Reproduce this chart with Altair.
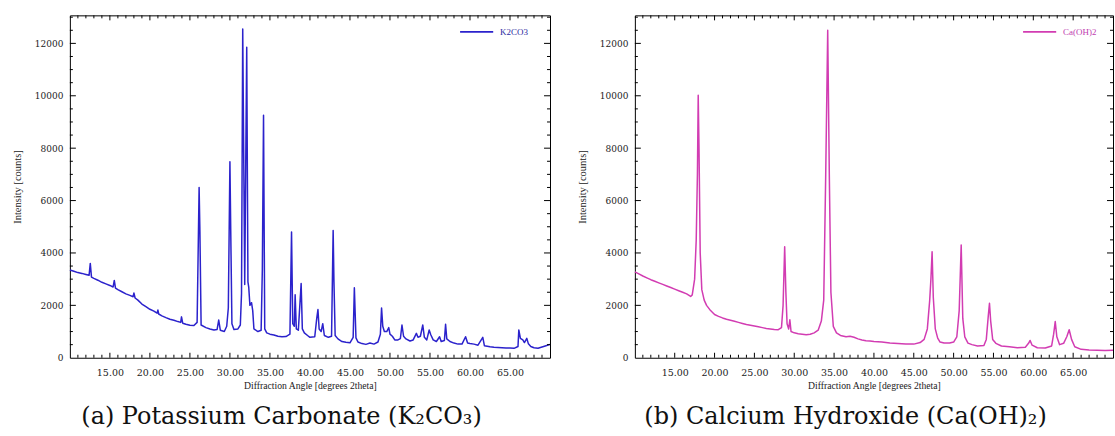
import altair as alt
import pandas as pd

# ---------------- data ----------------
k2co3_angle = [10.0, 10.5, 11.0, 11.5, 12.0, 12.4, 12.55, 12.7, 13.0, 13.5, 14.0, 14.5, 15.0, 15.4, 15.55, 15.7,
               16.0, 16.5, 17.0, 17.5, 17.9, 18.0, 18.15, 18.5, 19.0, 19.5, 20.0, 20.5, 20.9, 21.0, 21.1, 21.5,
               22.0, 22.5, 23.0, 23.5, 23.85, 23.95, 24.1, 24.5, 25.0, 25.5, 25.9, 26.15, 26.25, 26.4, 27.0, 27.5,
               28.0, 28.4, 28.6, 28.8, 29.3, 29.6, 29.8, 30.0, 30.1, 30.25, 30.5, 31.0, 31.3, 31.45, 31.6, 31.85,
               32.1, 32.25, 32.35, 32.5, 32.7, 32.85, 33.0, 33.5, 33.9, 34.05, 34.2, 34.35, 34.6, 35.0, 35.5, 36.0,
               36.5, 37.0, 37.5, 37.7, 37.85, 38.05, 38.15, 38.3, 38.55, 38.9, 39.05, 39.3, 39.7, 40.0, 40.6, 40.85,
               41.0, 41.15, 41.4, 41.6, 41.8, 42.3, 42.7, 42.9, 43.0, 43.15, 43.5, 44.0, 44.5, 45.0, 45.4, 45.55,
               45.75, 46.0, 46.5, 47.0, 47.5, 48.0, 48.5, 48.8, 48.95, 49.1, 49.3, 49.6, 49.85, 50.0, 50.3, 50.6,
               51.0, 51.3, 51.5, 51.7, 52.0, 52.5, 52.9, 53.3, 53.5, 53.8, 54.1, 54.3, 54.6, 54.9, 55.1, 55.4,
               55.8, 56.2, 56.4, 56.8, 56.95, 57.1, 57.5, 58.0, 58.5, 59.0, 59.45, 59.7, 60.0, 60.5, 61.0, 61.6,
               61.8, 62.5, 63.0, 63.5, 64.0, 64.5, 65.0, 65.5, 66.0, 66.1, 66.3, 66.6, 66.8, 67.1, 67.3, 67.6,
               68.0, 68.5, 69.0, 69.5, 70.0]
k2co3_counts = [3350, 3300, 3250, 3220, 3180, 3150, 3600, 3080, 3030, 2960, 2880, 2820, 2760, 2700, 2950, 2660,
                2600, 2520, 2440, 2380, 2330, 2470, 2280, 2200, 2050, 1950, 1850, 1780, 1700, 1820, 1670, 1600,
                1530, 1470, 1430, 1380, 1350, 1560, 1320, 1280, 1240, 1230, 1350, 6500, 4800, 1250, 1150, 1100,
                1060, 1080, 1440, 1050, 1000, 1200, 1900, 7480, 4900, 1300, 1080, 1100, 1250, 2450, 12550, 2800,
                11850, 2900, 2700, 2000, 2100, 1800, 1100, 1000, 1050, 3350, 9260, 1100, 950, 900, 870, 820,
                800, 810, 900, 4800, 1300, 1200, 2400, 1100, 1050, 2830, 1100, 950, 850, 780, 800, 1500,
                1840, 1100, 1000, 1300, 850, 780, 820, 4860, 2900, 850, 720, 620, 590, 570, 780, 2670,
                760, 600, 540, 510, 560, 520, 600, 900, 1900, 1200, 1000, 1000, 1150, 900, 820, 680,
                680, 730, 1250, 820, 720, 640, 680, 930, 780, 820, 1250, 780, 680, 1060, 880, 680,
                620, 800, 620, 660, 1280, 720, 620, 560, 520, 520, 800, 560, 540, 520, 480, 780,
                460, 420, 400, 390, 380, 370, 370, 360, 430, 1060, 740, 680, 580, 740, 530, 430,
                380, 360, 410, 460, 510]

caoh2_angle = [10.0, 10.5, 11.0, 11.5, 12.0, 12.5, 13.0, 13.5, 14.0, 14.5, 15.0, 15.5, 16.0, 16.5, 17.0, 17.2,
               17.5, 17.7, 17.85, 17.95, 18.05, 18.2, 18.4, 18.7, 19.0, 19.5, 20.0, 20.5, 21.0, 21.5, 22.0, 22.5,
               23.0, 23.5, 24.0, 24.5, 25.0, 25.5, 26.0, 26.5, 27.0, 27.5, 28.0, 28.4, 28.6, 28.8, 28.95, 29.1,
               29.3, 29.45, 29.6, 30.0, 30.5, 31.0, 31.5, 32.0, 32.5, 33.0, 33.4, 33.7, 33.95, 34.2, 34.4, 34.6,
               34.9, 35.3, 35.8, 36.5, 37.0, 37.5, 38.0, 38.5, 39.0, 39.5, 40.0, 41.0, 42.0, 43.0, 44.0, 45.0,
               45.8, 46.3, 46.7, 47.0, 47.15, 47.3, 47.45, 47.7, 48.0, 48.3, 48.8, 49.5, 50.0, 50.4, 50.7, 50.95,
               51.15, 51.4, 51.8, 52.3, 53.0, 53.8, 54.1, 54.35, 54.5, 54.65, 54.9, 55.3, 56.0, 57.0, 58.0, 59.0,
               59.4, 59.6, 59.85, 60.5, 61.5, 62.3, 62.55, 62.75, 62.95, 63.3, 63.8, 64.2, 64.5, 64.8, 65.2, 66.0,
               67.0, 68.0, 69.0, 70.0]
caoh2_counts = [3280, 3200, 3120, 3050, 2980, 2920, 2860, 2800, 2740, 2680, 2620, 2560, 2500, 2440, 2340, 2400,
                3000, 4500, 7000, 10020, 8000, 4000, 2600, 2200, 2000, 1800, 1650, 1580, 1520, 1470, 1430, 1390,
                1350, 1310, 1270, 1240, 1210, 1180, 1150, 1120, 1100, 1080, 1070, 1150, 2000, 4240, 2500, 1300,
                1100, 1450, 1000, 950, 920, 900, 880, 900, 950, 1050, 1400, 2200, 7000, 12500, 7000, 2500,
                1200, 950, 850, 800, 820, 780, 720, 680, 650, 640, 620, 600, 560, 540, 520, 520,
                580, 700, 1100, 2200, 3000, 4050, 2300, 1100, 750, 600, 560, 560, 600, 800, 1800, 4300,
                1500, 800, 560, 500, 450, 470, 700, 1600, 2080, 1400, 700, 550, 450, 420, 380, 400,
                550, 660, 480, 380, 370, 450, 900, 1380, 800, 500, 550, 800, 1070, 700, 420, 320,
                300, 290, 280, 290]

x_major = [15, 20, 25, 30, 35, 40, 45, 50, 55, 60, 65]
x_minor = [v for v in range(11, 70) if v % 5 != 0]
y_major = [2000, 4000, 6000, 8000, 10000, 12000]
y_minor = [v for v in range(500, 13001, 500) if v % 2000 != 0]
y_labels = [0, 2000, 4000, 6000, 8000, 10000, 12000]

H = 343
X_DOMAIN = [10, 70]
Y_DOMAIN = [0, 13070]
LBL_FONT = "DejaVu Serif"
TTL_FONT = "Liberation Serif"


def panel(xs, ys, name, color, legend_color, caption, W):
    df = pd.DataFrame({"angle": xs, "intensity": ys, "series": name})
    xscale = alt.Scale(domain=X_DOMAIN, nice=False, zero=False)
    yscale = alt.Scale(domain=Y_DOMAIN, nice=False, zero=False)

    main = alt.Chart(df).mark_line(strokeWidth=1.5, strokeJoin="round").encode(
        x=alt.X("angle:Q", scale=xscale,
                axis=alt.Axis(orient="bottom", values=x_major, format=".2f", ticks=False, domain=False,
                              grid=False, labelFont=LBL_FONT, labelFontSize=9.5, labelColor="#222",
                              labelPadding=10, title="Diffraction Angle [degrees 2theta]",
                              titleFont=TTL_FONT, titleFontSize=9.7, titleFontWeight="normal",
                              titleColor="#222", titlePadding=3)),
        y=alt.Y("intensity:Q", scale=yscale,
                axis=alt.Axis(orient="left", values=y_labels, format="d", ticks=False, domain=False,
                              grid=False, labelFont=LBL_FONT, labelFontSize=9, labelColor="#222",
                              labelPadding=7, title="Intensity [counts]", titleFont=TTL_FONT,
                              titleFontSize=10.5, titleFontWeight="normal", titleColor="#222",
                              titlePadding=12)),
        color=alt.Color("series:N", scale=alt.Scale(range=[color]),
                        legend=alt.Legend(orient="none", legendX=W - 91, legendY=-1, title=None,
                                          symbolType="stroke", symbolSize=1100, symbolStrokeWidth=1.6,
                                          labelFont=TTL_FONT, labelFontSize=9, labelColor=legend_color,
                                          labelOffset=6, padding=0)),
    )

    def xticks(vals, y0, y1):
        d = pd.DataFrame({"tick": vals})
        return alt.Chart(d).mark_rule(color="#000", strokeWidth=1).encode(
            x=alt.X("tick:Q", scale=xscale, axis=None), y=alt.value(y0), y2=alt.value(y1))

    def yticks(vals, x0, x1):
        d = pd.DataFrame({"tick": vals})
        return alt.Chart(d).mark_rule(color="#000", strokeWidth=1).encode(
            y=alt.Y("tick:Q", scale=yscale, axis=None), x=alt.value(x0), x2=alt.value(x1))

    layers = [
        main,
        xticks(x_major, H, H - 5), xticks(x_minor, H, H - 3),
        xticks(x_major, 0, 5), xticks(x_minor, 0, 3),
        yticks(y_major, 0, 6), yticks(y_minor, 0, 3),
        yticks(y_major, W, W - 6), yticks(y_minor, W, W - 3),
    ]
    return alt.layer(*layers).resolve_axis(x="independent", y="independent").properties(
        width=W, height=H,
        title=alt.TitleParams(text=caption, orient="bottom", anchor="middle", frame="bounds",
                              font="DejaVu Serif", fontSize=24, fontWeight="normal", color="#111",
                              offset=15),
    )


left = panel(k2co3_angle, k2co3_counts, "K2CO3", "#2b22cc", "#2a2aa0",
             "(a) Potassium Carbonate (K\u2082CO\u2083)", 481)
right = panel(caoh2_angle, caoh2_counts, "Ca(OH)2", "#d23cb2", "#c040b0",
              "(b) Calcium Hydroxide (Ca(OH)\u2082)", 479)

chart = alt.hconcat(left, right, spacing=24).resolve_scale(color="independent").resolve_legend(
    color="independent").properties(
    padding={"left": 11, "top": 13, "right": 0, "bottom": 0},
    background="white",
).configure_view(stroke="#000", strokeWidth=1)

chart.save("out.html", embed_options={"renderer": "svg", "actions": False})
